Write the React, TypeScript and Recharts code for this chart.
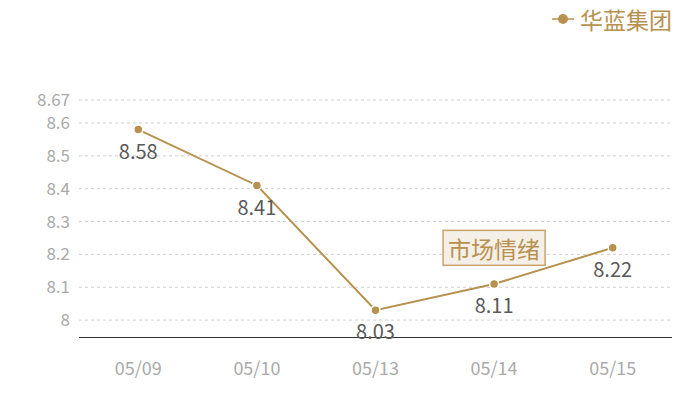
import React from 'react';
import {
  LineChart,
  Line,
  XAxis,
  YAxis,
  CartesianGrid,
  Legend,
  LabelList,
  ReferenceDot,
} from 'recharts';

const dates = ['05/09', '05/10', '05/13', '05/14', '05/15'];
const huaLan = [8.58, 8.41, 8.03, 8.11, 8.22];
const yTicks = [8, 8.1, 8.2, 8.3, 8.4, 8.5, 8.6, 8.67];
const seriesName = '华蓝集团';
const noteText = '市场情绪';
const notePoint = { x: '05/14', y: 8.22 };

const data = dates.map((d, i) => ({ date: d, value: huaLan[i] }));

const gold = '#b8914f';
const font = '"Noto Sans CJK SC", "Noto Sans", sans-serif';

const LegendContent = () => (
  <div style={{ display: 'flex', justifyContent: 'flex-end', alignItems: 'center', fontFamily: font, height: 28 }}>
    <svg width={22} height={12} style={{ marginRight: 6 }}>
      <line x1={0} y1={6} x2={22} y2={6} stroke={gold} strokeWidth={1.5} />
      <circle cx={11} cy={6} r={5} fill={gold} />
    </svg>
    <span style={{ color: gold, fontSize: 23, lineHeight: '28px' }}>{seriesName}</span>
  </div>
);

const NoteBox = ({ cx, cy }: any) => (
  <g>
    <rect x={cx - 51} y={cy - 17.5} width={102} height={35} fill="#f4efe7" stroke="#c9a46a" strokeWidth={1.5} />
    <text x={cx} y={cy} textAnchor="middle" dominantBaseline="central" fill={gold} fontSize={23} fontFamily={font}>
      {noteText}
    </text>
  </g>
);

const App = () => {
  return (
    <div style={{ position: 'absolute', left: 0, top: 0, width: 700, height: 400, background: '#fff' }}>
      <LineChart width={700} height={400} data={data} margin={{ top: 72, right: 28, bottom: 17.5, left: 0 }}>
        <CartesianGrid vertical={false} stroke="#cfcfcf" strokeDasharray="3 3" />
        <XAxis
          dataKey="date"
          scale="band"
          height={45}
          interval={0}
          axisLine={{ stroke: '#333', strokeWidth: 1 }}
          tickLine={false}
          tickSize={0}
          tickMargin={25}
          tick={{ fill: '#aaaaaa', fontSize: 18, fontFamily: font }}
        />
        <YAxis
          width={79}
          domain={[7.947, 8.67]}
          ticks={yTicks}
          interval={0}
          axisLine={false}
          tickLine={false}
          tickSize={0}
          tickMargin={9}
          tick={{ fill: '#aaaaaa', fontSize: 17, fontFamily: font }}
          allowDataOverflow
        />
        <Legend verticalAlign="top" align="right" content={<LegendContent />} wrapperStyle={{ top: 5, right: 28 }} />
        <Line
          name={seriesName}
          dataKey="value"
          stroke={gold}
          strokeWidth={2}
          dot={{ r: 4.5, fill: gold, stroke: '#fff', strokeWidth: 1.5 }}
          isAnimationActive={false}
        >
          <LabelList dataKey="value" position="bottom" offset={15} fill="#595959" fontSize={20} fontFamily={font} />
        </Line>
        <ReferenceDot x={notePoint.x} y={notePoint.y} shape={NoteBox} />
      </LineChart>
    </div>
  );
};

export default App;
